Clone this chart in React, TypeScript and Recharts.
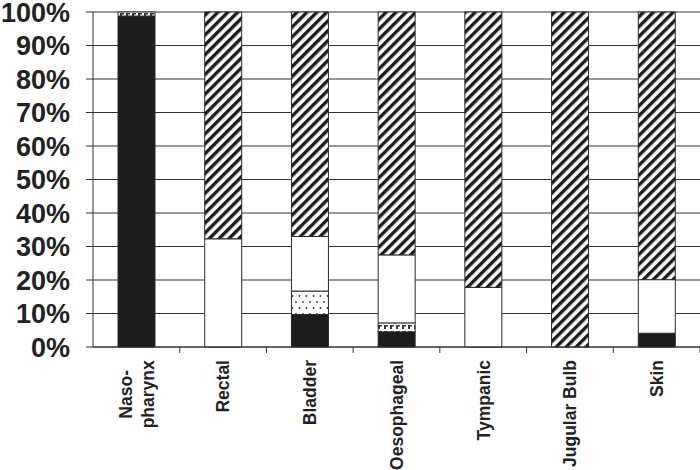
import React from 'react';
import { BarChart, Bar, CartesianGrid, XAxis, YAxis } from 'recharts';

const categories = ['Naso-\npharynx', 'Rectal', 'Bladder', 'Oesophageal', 'Tympanic', 'Jugular Bulb', 'Skin'];
const solidShare = [98.8, 0, 9.7, 4.5, 0, 0, 4.1];
const brickShare = [1.2, 0, 0, 2.7, 0, 0, 0];
const dottedShare = [0, 0, 7, 0, 0, 0, 0];
const whiteShare = [0, 32.3, 16.3, 20.3, 17.8, 0, 16];
const hatchShare = [0, 67.7, 67, 72.5, 82.2, 100, 79.9];
const yTicks = [0, 10, 20, 30, 40, 50, 60, 70, 80, 90, 100];

const data = categories.map((name, i) => ({
  name,
  solid: solidShare[i],
  brick: brickShare[i],
  dotted: dottedShare[i],
  white: whiteShare[i],
  hatch: hatchShare[i],
}));

const WIDTH = 700;
const HEIGHT = 470;
const Y_AXIS_WIDTH = 93;
const BAND = (WIDTH - Y_AXIS_WIDTH) / categories.length;
const FONT = '"Liberation Sans", Arial, sans-serif';
const INK = '#222';

// x tick: label rotated, tick mark on the category boundary
const CategoryTick = (props: any) => {
  const { x, y, payload } = props;
  const lines: string[] = String(payload.value).split('\n');
  const axisY = y - 13;
  const lineGap = 22;
  const longest = Math.max(...lines.map((l) => l.length));
  const mid = y + longest * 4.9;
  return (
    <g>
      <line x1={x + BAND / 2} x2={x + BAND / 2} y1={axisY} y2={axisY + 6} stroke="#333" />
      {lines.map((line, i) => {
        const cx = x + (i - (lines.length - 1) / 2) * lineGap;
        const single = lines.length === 1;
        const ty = single ? y : mid;
        return (
          <text
            key={i}
            x={cx}
            y={ty}
            dy="0.36em"
            textAnchor={single ? 'end' : 'middle'}
            transform={`rotate(-90, ${cx}, ${ty})`}
            fontFamily={FONT}
            fontWeight="bold"
            fontSize={17.5}
            fill={INK}
          >
            {line}
          </text>
        );
      })}
    </g>
  );
};

const Patterns = () => (
  <svg width={0} height={0} style={{ position: 'absolute' }}>
    <defs>
      <pattern id="hatch" width={7} height={7} patternUnits="userSpaceOnUse" patternTransform="rotate(45)">
        <rect width={7} height={7} fill="#fff" />
        <rect width={3.4} height={7} fill="#1c1c1c" />
      </pattern>
      <pattern id="dots" width={7} height={12} patternUnits="userSpaceOnUse">
        <rect width={7} height={12} fill="#fff" />
        <circle cx={2} cy={2} r={0.9} fill="#333" />
        <circle cx={5.5} cy={8} r={0.9} fill="#333" />
      </pattern>
      <pattern id="brick" width={6} height={6} patternUnits="userSpaceOnUse">
        <rect width={6} height={6} fill="#fff" />
        <rect x={0} y={1} width={2} height={4} fill="#333" />
        <rect x={0} y={1} width={4} height={1.5} fill="#333" />
      </pattern>
    </defs>
  </svg>
);

export default function App() {
  return (
    <div style={{ position: 'absolute', left: 0, top: 0, width: WIDTH, height: HEIGHT, background: '#fff' }}>
      <Patterns />
      <BarChart
        width={WIDTH}
        height={HEIGHT}
        data={data}
        barSize={37}
        margin={{ top: 12, right: 0, bottom: 0, left: 0 }}
      >
        <CartesianGrid vertical={false} stroke="#333" strokeWidth={1} />
        <XAxis
          dataKey="name"
          interval={0}
          height={123}
          tickLine={false}
          tickSize={0}
          tickMargin={13}
          axisLine={{ stroke: '#333' }}
          tick={<CategoryTick />}
        />
        <YAxis
          width={Y_AXIS_WIDTH}
          domain={[0, 100]}
          ticks={yTicks}
          interval={0}
          tickFormatter={(v: number) => `${v}%`}
          tickSize={7}
          tickMargin={16}
          axisLine={{ stroke: '#333' }}
          tickLine={{ stroke: '#333' }}
          tick={{ fontFamily: FONT, fontWeight: 'bold', fontSize: 27, fill: INK }}
        />
        <Bar dataKey="solid" stackId="a" fill="#1c1c1c" stroke="#2a2a2a" isAnimationActive={false} />
        <Bar dataKey="brick" stackId="a" fill="url(#brick)" stroke="#2a2a2a" isAnimationActive={false} />
        <Bar dataKey="dotted" stackId="a" fill="url(#dots)" stroke="#2a2a2a" isAnimationActive={false} />
        <Bar dataKey="white" stackId="a" fill="#fff" stroke="#2a2a2a" isAnimationActive={false} />
        <Bar dataKey="hatch" stackId="a" fill="url(#hatch)" stroke="#2a2a2a" isAnimationActive={false} />
      </BarChart>
    </div>
  );
}
